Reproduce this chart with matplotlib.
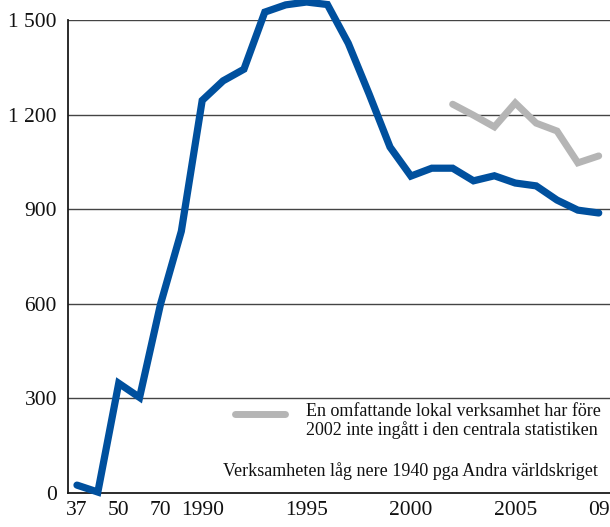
import matplotlib
matplotlib.use("Agg")
import matplotlib.pyplot as plt

# Data
years = ["1937", "1940", "1950", "1960", "1970", "1980",
         "1990", "1991", "1992", "1993", "1994", "1995", "1996", "1997",
         "1998", "1999", "2000", "2001", "2002", "2003", "2004", "2005",
         "2006", "2007", "2008", "2009"]
antal = [25, 3, 348, 303, 598, 830,
         1245, 1307, 1344, 1525, 1548, 1557, 1549, 1426,
         1265, 1097, 1005, 1030, 1030, 990, 1006, 983,
         974, 929, 897, 888]
antal_lokal_years = ["2002", "2003", "2004", "2005", "2006", "2007", "2008", "2009"]
antal_lokal = [1233, 1198, 1161, 1237, 1173, 1148, 1047, 1069]

tick_years = ["1937", "1950", "1970", "1990", "1995", "2000", "2005", "2009"]
tick_labels = ["37", "50", "70", "1990", "1995", "2000", "2005", "09"]
y_ticks = [0, 300, 600, 900, 1200, 1500]
y_labels = ["0", "300", "600", "900", "1 200", "1 500"]

BLUE = "#00509e"
GREY = "#b5b5b5"

plt.rcParams["font.family"] = ["Liberation Serif", "DejaVu Serif"]

fig = plt.figure(figsize=(6.1, 5.27), dpi=100)
ax = fig.add_axes([68 / 610, 34 / 527, 542 / 610, 473 / 527])

pos = {y: i for i, y in enumerate(years)}
x_main = [pos[y] for y in years]
x_lokal = [pos[y] for y in antal_lokal_years]

for v in y_ticks[1:]:
    ax.axhline(v, color="#444444", lw=1.0, zorder=1)

ax.plot(x_lokal, antal_lokal, color=GREY, lw=5, solid_capstyle="round",
        solid_joinstyle="miter", zorder=3, clip_on=False)
ax.plot(x_main, antal, color=BLUE, lw=5.2, solid_capstyle="round",
        solid_joinstyle="miter", zorder=4, clip_on=False)

ax.set_xlim(-0.43, 25.54)
ax.set_ylim(0, 1500)
ax.set_xticks([pos[y] for y in tick_years])
ax.set_xticklabels(tick_labels)
ax.set_yticks(y_ticks)
ax.set_yticklabels(y_labels)
ax.tick_params(length=0, labelsize=15.5, colors="#111111")
ax.tick_params(axis="y", pad=8)
ax.tick_params(axis="x", pad=6)

for s in ["top", "right"]:
    ax.spines[s].set_visible(False)
for s in ["left", "bottom"]:
    ax.spines[s].set_color("#1a1a1a")
    ax.spines[s].set_linewidth(1.3)

# legend-like key and notes
ax.plot([7.57, 9.97], [250, 250], color=GREY, lw=5, solid_capstyle="round",
        zorder=3)
ax.text(10.97, 228, "En omfattande lokal verksamhet har före\n"
        "2002 inte ingått i den centrala statistiken",
        fontsize=13, va="center", ha="left", color="#111111",
        linespacing=1.05)
ax.text(24.95, 70, "Verksamheten låg nere 1940 pga Andra världskriget",
        fontsize=13, va="center", ha="right", color="#111111")

fig.savefig("out.png", dpi=100)
